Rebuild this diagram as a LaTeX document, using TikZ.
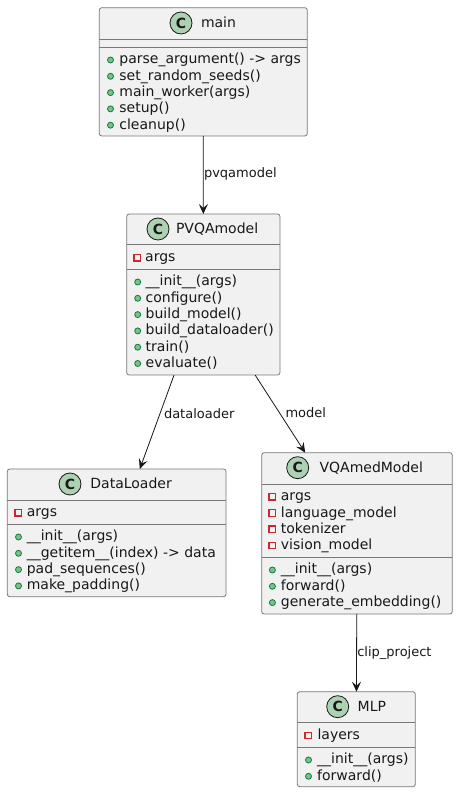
\documentclass[tikz,border=0pt]{standalone}
\usepackage{fontspec}
\setmainfont{DejaVu Sans}
\usetikzlibrary{arrows.meta}
\begin{document}
\begin{tikzpicture}[x=1pt,y=1pt,
  classbox/.style={draw=borderColor,fill=boxColor,line width=0.8pt,rounded corners=2.5pt,inner sep=0pt,outer sep=0pt},
  sepline/.style={draw=borderColor,line width=0.8pt},
  spot/.style={draw=drawColor,fill=spotColor,line width=0.8pt},
  spotletter/.style={text=drawColor,inner sep=0pt,outer sep=0pt,font=\fontsize{14}{14}\selectfont\bfseries},
  classname/.style={text=drawColor,anchor=base west,inner sep=0pt,outer sep=0pt,font=\fontsize{14}{16}\selectfont},
  member/.style={text=drawColor,anchor=base west,inner sep=0pt,outer sep=0pt,font=\fontsize{14}{16}\selectfont},
  pubmark/.style={draw=pubDraw,fill=pubFill,line width=0.8pt},
  privmark/.style={draw=privDraw,line width=1.2pt},
  link/.style={draw=drawColor,line width=0.8pt,-{Stealth[length=10pt,width=9pt,inset=4pt]}},
  linklabel/.style={text=drawColor,anchor=base west,inner sep=0pt,outer sep=0pt,font=\fontsize{13}{15}\selectfont}]
\definecolor{fillColor}{RGB}{255,255,255}
\definecolor{drawColor}{RGB}{24,24,24}
\definecolor{borderColor}{RGB}{120,120,120}
\definecolor{boxColor}{RGB}{241,241,241}
\definecolor{spotColor}{RGB}{173,209,178}
\definecolor{pubFill}{RGB}{132,190,132}
\definecolor{pubDraw}{RGB}{3,128,72}
\definecolor{privDraw}{RGB}{200,41,48}
\path[use as bounding box,fill=fillColor] (0,0) rectangle (458,793);

% class boxes
\node[classbox,minimum width=208pt,minimum height=128.3pt] (main) at (203.3,721.15) {};
\node[classbox,minimum width=153.3pt,minimum height=161pt] (pvqa) at (203.35,498.5) {};
\node[classbox,minimum width=218.7pt,minimum height=127.7pt] (loader) at (116.65,260.15) {};
\node[classbox,minimum width=190.6pt,minimum height=161.3pt] (vqamed) at (357,259.65) {};
\node[classbox,minimum width=118pt,minimum height=95pt] (mlp) at (356.3,53.8) {};

% compartments
\path[sepline] ( 99.3,754.0) -- (307.3,754.0);
\path[sepline] ( 99.3,745.7) -- (307.3,745.7);
\path[sepline] (126.7,548.3) -- (280.0,548.3);
\path[sepline] (126.7,523.7) -- (280.0,523.7);
\path[sepline] (  7.3,293.0) -- (226.0,293.0);
\path[sepline] (  7.3,268.7) -- (226.0,268.7);
\path[sepline] (261.7,309.0) -- (452.3,309.0);
\path[sepline] (261.7,235.7) -- (452.3,235.7);
\path[sepline] (297.3, 70.3) -- (415.3, 70.3);
\path[sepline] (297.3, 45.7) -- (415.3, 45.7);

% headers
\path[spot] (181.0,770.0) circle (11);
\node[spotletter] (main-c) at (181.0,770.0) {C};
\node[classname] (main-name) at (201.0,765.5) {main};

\path[spot] (158.0,564.0) circle (11);
\node[spotletter] (pvqa-c) at (158.0,564.0) {C};
\node[classname] (pvqa-name) at (176.0,559.5) {PVQAmodel};

\path[spot] ( 70.0,309.0) circle (11);
\node[spotletter] (loader-c) at ( 70.0,309.0) {C};
\node[classname] (loader-name) at ( 90.4,304.5) {DataLoader};

\path[spot] (297.7,325.3) circle (11);
\node[spotletter] (vqamed-c) at (297.7,325.3) {C};
\node[classname] (vqamed-name) at (319.6,320.8) {VQAmedModel};

\path[spot] (337.7, 86.3) circle (11);
\node[spotletter] (mlp-c) at (337.7, 86.3) {C};
\node[classname] (mlp-name) at (357.7, 81.8) {MLP};

% members
\foreach \m [count=\i] in {parse\_argument() -> args,set\_random\_seeds(),main\_worker(args),setup(),cleanup()} {
  \path[pubmark] (110.5,{733-16.3*(\i-1)}) circle (3);
  \node[member] (main-m\i) at (119.4,{729-16.3*(\i-1)}) {\m};
}

\path[privmark] (134.0,532.0) rectangle (140.5,538.5);
\node[member] (pvqa-a1) at (145.2,531.0) {args};
\foreach \m [count=\i] in {\_\_init\_\_(args),configure(),build\_model(),build\_dataloader(),train(),evaluate()} {
  \path[pubmark] (137.7,{511-16.3*(\i-1)}) circle (3);
  \node[member] (pvqa-m\i) at (145.7,{507-16.3*(\i-1)}) {\m};
}

\path[privmark] ( 15.0,277.0) rectangle ( 21.5,283.5);
\node[member] (loader-a1) at ( 26.8,276.0) {args};
\foreach \m [count=\i] in {\_\_init\_\_(args),\_\_getitem\_\_(index) -> data,pad\_sequences(),make\_padding()} {
  \path[pubmark] ( 18.5,{256-16.3*(\i-1)}) circle (3);
  \node[member] (loader-m\i) at ( 26.8,{252-16.3*(\i-1)}) {\m};
}

\foreach \a [count=\i] in {args,language\_model,tokenizer,vision\_model} {
  \path[privmark] (269.0,{293-16.3*(\i-1)}) rectangle (275.5,{299.5-16.3*(\i-1)});
  \node[member] (vqamed-a\i) at (280.9,{292-16.3*(\i-1)}) {\a};
}
\foreach \m [count=\i] in {\_\_init\_\_(args),forward(),generate\_embedding()} {
  \path[pubmark] (272.4,{223-16.3*(\i-1)}) circle (3);
  \node[member] (vqamed-m\i) at (280.9,{219-16.3*(\i-1)}) {\m};
}

\path[privmark] (305.0, 54.3) rectangle (311.5, 60.8);
\node[member] (mlp-a1) at (317.6, 53.3) {layers};
\foreach \m [count=\i] in {\_\_init\_\_(args),forward()} {
  \path[pubmark] (308.5,{33-16.3*(\i-1)}) circle (3);
  \node[member] (mlp-m\i) at (317.2,{29-16.3*(\i-1)}) {\m};
}

% associations
\draw[link] (main) -- (pvqa);
\draw[link] (pvqa) -- (loader);
\draw[link] (pvqa) -- (vqamed);
\draw[link] (vqamed) -- (mlp);

\node[linklabel] (lbl-pvqamodel) at (204.0,615.3) {pvqamodel};
\node[linklabel] (lbl-dataloader) at (164.0,374.7) {dataloader};
\node[linklabel] (lbl-model) at (285.5,375.3) {model};
\node[linklabel] (lbl-clip) at (357.3,136.3) {clip\_project};
\end{tikzpicture}
\end{document}
